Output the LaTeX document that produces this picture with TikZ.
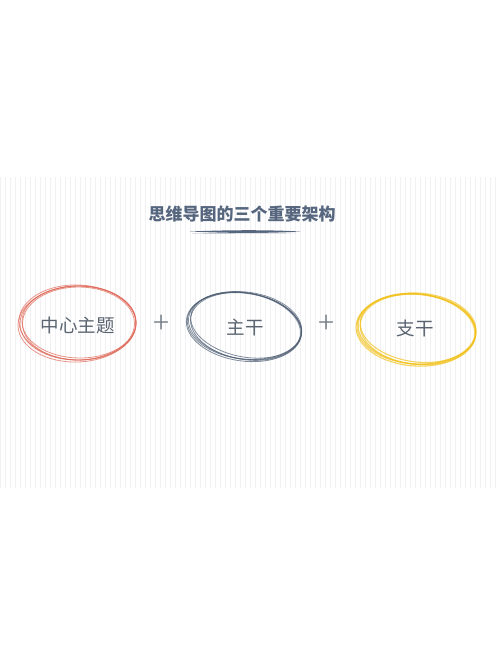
\documentclass[tikz,border=0pt]{standalone}
\usepackage{fontspec}
\newfontfamily\cjk{Noto Sans CJK SC}
\newfontfamily\cjklight{Noto Sans CJK SC Light}
\definecolor{titlec}{HTML}{56667E}
\definecolor{textc}{HTML}{5A6470}
\definecolor{redc}{HTML}{E06858}
\definecolor{bluec}{HTML}{4C5C72}
\definecolor{yellowc}{HTML}{F2C21E}
\definecolor{gridc}{HTML}{F1F1F3}
\tikzset{
  titletext/.style={font=\cjk\bfseries\fontsize{17}{20}\selectfont, text=titlec, inner sep=0pt},
  bodytext/.style={font=\cjk\fontsize{18.5}{22}\selectfont, text=textc, inner sep=0pt},
  plustext/.style={font=\cjklight\fontsize{30}{32}\selectfont, text=textc!85, inner sep=0pt},
  stroke/.style={line width=0.8pt, opacity=0.7},
}
\begin{document}
\begin{tikzpicture}[x=1pt,y=-1pt]
\useasboundingbox (0,0) rectangle (500,654);
\fill[white] (0,0) rectangle (500,654);
% faint grid
\draw[gridc, line width=0.35pt, step=5] (0,177) grid (500,488);
% title
\node[titletext] (title) at (242,214) {思维导图的三个重要架构};
\coordinate (ulA) at (190,231.5);
\coordinate (ulB) at (300,231.5);
\fill[titlec] (ulA) .. controls (230,229.8) and (270,229.8) .. (ulB) .. controls (270,233.4) and (230,233.4) .. (ulA) -- cycle;
\draw[titlec!50, line width=0.4pt] (192,233.5) -- (296,233);
% red ellipse
\foreach \dx/\dy/\rx/\ry/\r in {0/0/58/37/1, 1/-1/57/36/-1, -1/1/59/38/2, 0.5/0.5/56/36.5/0, -0.5/-0.5/58.5/37.5/-2}
  \draw[redc, stroke] (78+\dx,323+\dy) ellipse[x radius=\rx, y radius=\ry, rotate=\r];
\node[bodytext] (main) at (78,325) {中心主题};
\node[plustext] (plus1) at (162,324) {+};
% blue ellipse
\foreach \dx/\dy/\rx/\ry/\r in {0/0/57/33/-9, 1/-1/56/32/-11, -1/1/58/34/-8, 0.5/0.5/55.5/33/-10, -0.5/-0.5/57.5/33.5/-7}
  \draw[bluec, stroke] (245+\dx,326+\dy) ellipse[x radius=\rx, y radius=\ry, rotate=\r];
\node[bodytext] (trunk) at (245,327) {主干};
\node[plustext] (plus2) at (327,324) {+};
% yellow ellipse
\foreach \dx/\dy/\rx/\ry/\r in {0/0/59/35/-5, 1/-1/58/34/-7, -1/1/60/36/-4, 0.5/0.5/57.5/35/-6, -0.5/-0.5/59.5/35.5/-3}
  \draw[yellowc, stroke, line width=1.1pt] (417+\dx,329+\dy) ellipse[x radius=\rx, y radius=\ry, rotate=\r];
\node[bodytext] (branch) at (415,328) {支干};
\end{tikzpicture}
\end{document}
